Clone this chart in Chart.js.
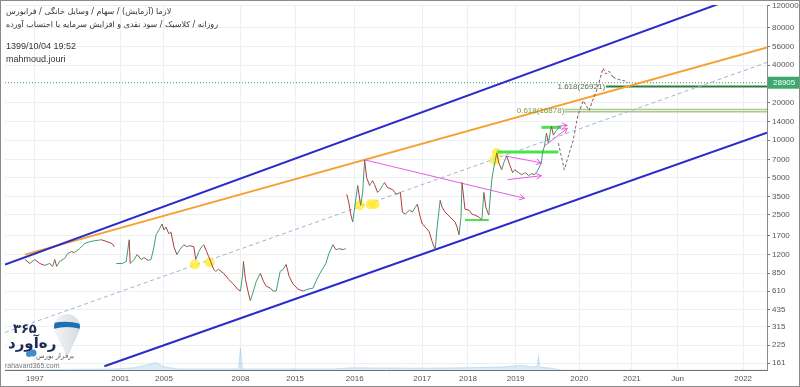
<!DOCTYPE html>
<html><head><meta charset="utf-8">
<script src="https://cdn.jsdelivr.net/npm/chart.js@4"></script>
<style>html,body{margin:0;padding:0;background:#fff}#wrap{width:800px;height:387px;position:relative}</style>
</head><body><div id="wrap"><canvas id="c" width="800" height="387"></canvas></div>
<script>
// ---------- axes ----------
const xTickIdx = [30,116,160,237,292,352,420,466,514,578,631,677,743];
const xTickLabels = ['1997','2001','2005','2008','2015','2016','2017','2018','2019','2020','2021','Jun','2022'];
const yTicks = [161,225,315,435,610,850,1200,1700,2500,3500,5000,7000,10000,14000,20000,40000,56000,80000,120000];
const yMin = 141.7, yMax = 121818;
const lastPrice = 28905;

// ---------- price (bar index, close) ----------
const priceIdx = [
 20,25,30,35,40,45,48,50,52,55,60,63,67,70,75,80,85,90,97,103,108,110,111,
 112,118,122,125,126,130,133,137,140,144,147,
 150,152,155,158,160,162,165,167,170,173,176,180,183,186,190,192,195,198,200,203,205,207,210,212,215,220,225,230,234,237,239,240,242,245,247,250,253,257,260,263,267,270,273,275,277,280,283,286,290,295,300,305,310,313,317,320,323,326,330,333,337,340,343,343.5,
 344,346,348,350,352,355,358,360,362,364,367,370,372,375,377,380,382,385,390,394,398,400,403,407,410,413,415,418,420,424,427,430,433,435,438,440,443,448,453,455,457,459,460,462,463,467,470,473,477,480,482,484,487,488,490,492,495,497,500,502,505,508,511,513,517,520,524,527,530,533,536,540,541,543,545,547,549,550,552,555,557,558
];
const priceClose = [
 1096,1018,1096,1018,982,1018,964,1096,964,1056,1116,1222,1268,1245,1339,1467,1522,1550,1579,1522,1467,1389,null,
 1018,1018,1056,1579,1018,1096,1200,1096,1136,1076,1096,
 1389,1729,1895,2114,1895,2001,1761,1827,1389,1200,1315,1441,1389,1415,1389,1096,1268,1389,1441,1268,1157,1056,913,880,913,848,760,694,633,611,803,1056,760,589,509,611,733,848,733,669,645,611,611,733,880,913,1000,803,694,633,611,633,645,733,848,930,1018,1222,1441,1315,1339,1315,1339,null,
 3656,3159,2538,2193,2884,4310,2991,3792,6928,4987,4310,4721,4389,3792,3933,4310,4552,4155,4006,3656,3792,2632,2538,2730,2632,2884,3046,2402,2114,1965,1827,1522,1315,2001,3277,2884,2632,2402,2193,2001,1729,2402,4552,3277,2780,2730,2538,2492,2402,2274,3792,2884,2492,3159,4808,5986,7873,6559,5772,6559,7453,6324,5464,5772,5464,5268,5464,5173,5365,5268,5667,6559,7873,8946,11343,9450,11765,12890,10936,11982,12428,12890
];
// latest path (drawn thin, dashed)
const pathIdx = [557,563,568,572,576,578,582,585,588,591,595,598,602,605,608,612,616,620,624,627];
const pathPrice = [9450,5770,7873,9978,14915,16946,20713,18915,17256,20341,24416,29308,37843,33923,35823,32124,30963,30397,29862,28905];

// ---------- volume ----------
const volIdx = [0,110,130,140,148,152,156,160,166,175,235,237,239,330,350,420,460,500,520,530,536,537,538,550,560,767];
const volume = [0,0.3,0.6,1.2,1.8,2,1.5,0.9,0.6,0.3,0.3,6,0.3,0.3,0.6,0.5,0.6,0.8,1.3,0.8,1,4,0.8,0.5,0,0];

// ---------- drawings ----------
const upperChanIdx = [0,767],   upperChanP = [1000,172350];
const lowerChanIdx = [100,767], lowerChanP = [152,11467];
const orangeIdx = [20,767],     orangeP = [1200,55553];
const midIdx = [0,767],         midP = [284,42089];
const mag1Idx = [362,523], mag1P = [6928,3399];
const mag2Idx = [503,540], mag2P = [7455,6558];
const mag3Idx = [506,540], mag3P = [4807,5171];
const mag4Idx = [543,566], mag4P = [8948,12426];
const mag5Idx = [555,566], mag5P = [12890,13128];
const grn1Idx = [463,487], grn1P = [2274,2274];
const grn2Idx = [495,557], grn2P = [8016,8016];
const grn3Idx = [540,560], grn3P = [12652,12652];
const fib1618Idx = [605,767], fib1618P = [26921,26921];
const fib0618Idx = [563,767], fib0618P = [16878,16878], fib0618bP = [17600,17600];
const curIdx = [0,767], curP = [lastPrice,lastPrice];
const hlIdx = [191,206,357,368,372,493,495];
const hlP = [1000,1037,2991,3046,3046,6928,7873];

function pts(xs, ys){ return xs.map((x,i)=>({x:x, y:ys[i]})); }
const UP='#3f9c73', DN='#b13b3b';
function seg(xs, ys, color, width, order, extra){
  return Object.assign({data:pts(xs,ys), borderColor:color, borderWidth:width, pointRadius:0, order:order, fill:false, tension:0}, extra||{});
}
const MAG = '#e85ce0';
const datasets = [
  seg(priceIdx, priceClose, UP, 1, 1, {spanGaps:false, segment:{borderColor:c=> c.p1.parsed.y>=c.p0.parsed.y?UP:DN}}),
  seg(pathIdx, pathPrice, '#6b6b6b', 1, 2, {borderDash:[3,2], segment:{borderColor:c=> (c.p0.parsed.x>=576 && c.p1.parsed.x<=612)?'#9a4a4a':'#707070'}}),
  seg(mag1Idx, mag1P, MAG, 1, 3, {arrow:true}),
  seg(mag2Idx, mag2P, MAG, 1, 3, {arrow:true}),
  seg(mag3Idx, mag3P, MAG, 1, 3, {arrow:true}),
  seg(mag4Idx, mag4P, MAG, 1, 3, {arrow:true}),
  seg(mag5Idx, mag5P, MAG, 1, 3, {arrow:true}),
  seg(grn1Idx, grn1P, '#4be24b', 2, 4),
  seg(grn2Idx, grn2P, '#4be24b', 3, 4),
  seg(grn3Idx, grn3P, '#4be24b', 3, 4),
  {data:pts(hlIdx,hlP), showLine:false, pointRadius:5, pointHoverRadius:5, pointBackgroundColor:'rgba(255,235,40,0.75)', pointBorderWidth:0, order:5},
  seg(upperChanIdx, upperChanP, '#2b2bc8', 2, 6),
  seg(lowerChanIdx, lowerChanP, '#2b2bc8', 2, 6),
  seg(orangeIdx, orangeP, '#f3a233', 2, 6),
  seg(midIdx, midP, '#a3b4cc', 1, 7, {borderDash:[4,3]}),
  seg(fib1618Idx, fib1618P, '#2f7d3c', 2, 8),
  seg(fib0618Idx, fib0618P, '#a9c98f', 1.5, 8),
  seg(fib0618Idx, fib0618bP, '#a9c98f', 1.5, 8),
  seg(curIdx, curP, '#3c9a6a', 1, 8, {borderDash:[1,2]}),
  seg(volIdx, volume, 'rgba(130,185,225,0.35)', 1, 9, {yAxisID:'v', fill:'origin', backgroundColor:'rgba(150,200,235,0.35)'})
];

const arrows = {
  id:'arrows',
  afterDatasetsDraw(chart){
    const ctx = chart.ctx;
    chart.data.datasets.forEach((ds,i)=>{
      if(!ds.arrow) return;
      const m = chart.getDatasetMeta(i).data;
      const a = m[m.length-2], b = m[m.length-1];
      const ang = Math.atan2(b.y-a.y, b.x-a.x);
      ctx.save(); ctx.strokeStyle = ds.borderColor; ctx.lineWidth = 1;
      ctx.beginPath();
      ctx.moveTo(b.x - 6*Math.cos(ang-0.5), b.y - 6*Math.sin(ang-0.5));
      ctx.lineTo(b.x, b.y);
      ctx.lineTo(b.x - 6*Math.cos(ang+0.5), b.y - 6*Math.sin(ang+0.5));
      ctx.stroke(); ctx.restore();
    });
  }
};

const overlay = {
  id:'overlay',
  afterDatasetsDraw(chart){
    const {ctx, scales:{x,y}} = chart;
    ctx.save();
    ctx.font = '8px "Liberation Sans"';
    ctx.textBaseline = 'middle';
    ctx.textAlign = 'right';
    ctx.fillStyle = '#4f6f55';
    ctx.fillText('1.618(26921)', x.getPixelForValue(604), y.getPixelForValue(26921));
    ctx.fillStyle = '#7a9a4a';
    ctx.fillText('0.618(16878)', x.getPixelForValue(563), y.getPixelForValue(16878)-1);
    // logo balloon
    const cx=67, cy=327;
    ctx.beginPath();
    ctx.arc(cx,cy,13,Math.PI*0.8,Math.PI*2.2);
    ctx.lineTo(cx+2,cy+27);
    ctx.lineTo(cx-1,cy+27);
    ctx.closePath();
    const g = ctx.createLinearGradient(cx-13,0,cx+13,0);
    g.addColorStop(0,'#f2f3f5'); g.addColorStop(1,'#d7dbe0');
    ctx.fillStyle = g; ctx.fill();
    ctx.save(); ctx.clip();
    ctx.fillStyle = '#1f6fb3';
    ctx.beginPath();
    ctx.moveTo(cx-14,cy-4); ctx.quadraticCurveTo(cx,cy-7,cx+14,cy-3);
    ctx.lineTo(cx+14,cy+2); ctx.quadraticCurveTo(cx,cy-2,cx-14,cy+2); ctx.closePath(); ctx.fill();
    ctx.restore();
    ctx.direction = 'rtl';
    ctx.textAlign = 'left';
    ctx.textBaseline = 'alphabetic';
    ctx.fillStyle = '#1c2a55';
    ctx.font = 'bold 13px "DejaVu Sans"';
    ctx.fillText('۳۶۵', 13, 333);
    ctx.font = 'bold 15px "DejaVu Sans"';
    ctx.fillText('ره‌آورد', 8, 348);
    ctx.font = '7px "DejaVu Sans"';
    ctx.fillStyle = '#555';
    ctx.fillText('برفراز بورس', 36, 358);
    ctx.direction = 'ltr';
    ctx.fillStyle = '#3a8fd0';
    ctx.beginPath(); ctx.arc(29,354,3,0,Math.PI*2); ctx.arc(33,353,3.5,0,Math.PI*2); ctx.fill();
    ctx.fillStyle = '#777';
    ctx.font = '7px "Liberation Sans"';
    ctx.fillText('rahavard365.com', 5, 368);
    ctx.restore();
  },
  afterDraw(chart){
    const {ctx, scales:{y}} = chart;
    ctx.save();
    ctx.fillStyle = '#333';
    ctx.direction = 'rtl';
    ctx.textAlign = 'left';
    ctx.textBaseline = 'middle';
    ctx.font = '8px "DejaVu Sans"';
    ctx.fillText('لازما (آزمایش) / سهام / وسایل خانگی / فرابورس', 6, 12);
    ctx.fillText('روزانه / کلاسیک / سود نقدی و افزایش سرمایه با احتساب آورده', 6, 25);
    ctx.direction = 'ltr';
    ctx.font = '9px "Liberation Sans"';
    ctx.fillText('1399/10/04 19:52', 6, 47);
    ctx.fillText('mahmoud.jouri', 6, 60);
    const py = y.getPixelForValue(lastPrice);
    ctx.fillStyle = '#3fa86e';
    ctx.fillRect(768, py-6, 32, 12);
    ctx.fillStyle = '#fff';
    ctx.font = '8px "Liberation Sans"';
    ctx.textAlign = 'left';
    ctx.fillText(String(lastPrice), 773, py+0.5);
    ctx.strokeStyle = '#8a8a8a'; ctx.lineWidth = 1;
    ctx.strokeRect(0.5,0.5,799,386);
    ctx.restore();
  }
};

new Chart(document.getElementById('c'), {
  type:'line',
  data:{datasets:datasets},
  plugins:[arrows, overlay],
  options:{
    responsive:false, animation:false, events:[],
    layout:{padding:0},
    plugins:{legend:{display:false}, tooltip:{enabled:false}},
    scales:{
      x:{type:'linear', min:0, max:767,
        afterBuildTicks:s=>{ s.ticks = xTickIdx.map(v=>({value:v})); },
        afterFit:s=>{ s.height = 17; s.paddingLeft = 0; s.paddingRight = 0; },
        ticks:{callback:(v,i)=>xTickLabels[i], maxRotation:0, autoSkip:false, font:{size:8, family:'Liberation Sans'}, color:'#555', padding:4},
        grid:{color:'#eceff3', drawTicks:false},
        border:{color:'#707070'}
      },
      y:{type:'logarithmic', position:'right', min:yMin, max:yMax,
        afterBuildTicks:s=>{ s.ticks = yTicks.map(v=>({value:v})); },
        afterFit:s=>{ s.width = 33; s.paddingTop = 0; s.paddingBottom = 0; },
        ticks:{callback:v=>String(v), autoSkip:false, font:{size:8, family:'Liberation Sans'}, color:'#555', padding:2},
        grid:{color:'#eceff3', tickLength:3, tickColor:'#777'},
        border:{color:'#8a8a8a'}
      },
      v:{type:'linear', display:false, min:0, max:100}
    }
  }
});
</script>
</body></html>
